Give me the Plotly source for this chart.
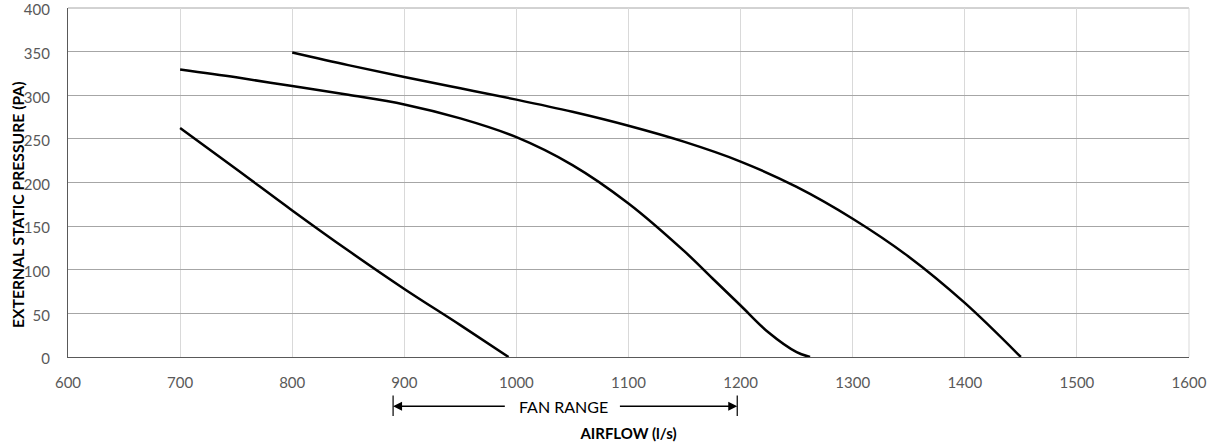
import plotly.graph_objects as go

# Fan curves: airflow (l/s) vs external static pressure (Pa)
low_airflow = [700, 750, 800, 850, 900, 950, 993]
low_pressure = [262.5, 215.5, 168, 122, 78, 36.5, 0]

mid_airflow = [700, 750, 800, 850, 900, 950, 1000, 1050, 1100, 1150, 1175, 1200, 1225, 1250, 1262]
mid_pressure = [329.5, 320.5, 310.5, 300.5, 289.5, 273.5, 252, 220, 176, 121, 90, 59, 28, 5.5, 0]

high_airflow = [800, 850, 900, 950, 1000, 1050, 1100, 1150, 1200, 1250, 1300, 1350, 1400, 1450]
high_pressure = [349, 334.5, 321, 308, 295, 281, 265, 246.5, 224, 195, 158.5, 115, 62, 0]

x_ticks = [600, 700, 800, 900, 1000, 1100, 1200, 1300, 1400, 1500, 1600]
y_ticks = [0, 50, 100, 150, 200, 250, 300, 350, 400]

fan_range = [890, 1197]
fan_range_label = "FAN RANGE"

FONT = "Lato"
TICK_COLOR = "#595959"
HGRID = "#a6a6a6"
VGRID = "#d9d9d9"

fig = go.Figure()
for xs, ys in [(low_airflow, low_pressure), (mid_airflow, mid_pressure), (high_airflow, high_pressure)]:
    fig.add_trace(go.Scatter(x=xs, y=ys, mode="lines",
                             line=dict(color="black", width=2.5, shape="spline", smoothing=1.0),
                             showlegend=False, hoverinfo="x+y"))

fig.update_layout(
    width=1218, height=447,
    margin=dict(l=68, r=29, t=8, b=90, autoexpand=False),
    paper_bgcolor="white", plot_bgcolor="white",
    font=dict(family=FONT, size=15, color=TICK_COLOR),
    xaxis=dict(range=[600, 1600], tickvals=x_ticks, showgrid=True, gridcolor=VGRID,
               gridwidth=1, showline=True, linecolor="#595959", linewidth=1.2, zeroline=False,
               ticks="", ticklabelstandoff=12, automargin=False, ticklabeloverflow="allow",
               title=dict(text="<b>AIRFLOW (l/s)</b>", font=dict(size=15, color="black"), standoff=38)),
    yaxis=dict(range=[0, 400], tickvals=y_ticks, showgrid=True, gridcolor=HGRID,
               gridwidth=1, showline=True, linecolor="#595959", linewidth=1.2, zeroline=False,
               ticks="", ticklabelstandoff=14, ticklabelshift=2, automargin=False,
               ticklabeloverflow="allow"),
)

# Plot frame: top gridline-coloured edge and light right edge
fig.add_shape(type="line", xref="paper", yref="paper", x0=0, x1=1, y0=1, y1=1,
              line=dict(color=HGRID, width=1), layer="below")
fig.add_shape(type="line", xref="paper", yref="paper", x0=1, x1=1, y0=0, y1=1,
              line=dict(color=VGRID, width=1), layer="below")

# Y axis title (positioned like the reference, slightly below the plot centre)
fig.add_annotation(text="<b>EXTERNAL STATIC PRESSURE (PA)</b>", textangle=-90,
                   xref="paper", yref="paper", x=-0.0445, y=0.436, xanchor="center", yanchor="middle",
                   showarrow=False, font=dict(family=FONT, size=15.7, color="black"))

# Fan range marker below the axis
y_mark = -0.141
fig.add_annotation(text=fan_range_label, xref="x", yref="paper",
                   x=1042, y=y_mark, showarrow=False,
                   font=dict(family=FONT, size=16, color="black"), yanchor="middle")
fig.add_annotation(text="", xref="x", yref="paper", axref="x", ayref="pixel",
                   x=fan_range[0], y=y_mark, ax=991, ay=0,
                   showarrow=True, arrowhead=2, arrowsize=1.2, arrowwidth=1.5, arrowcolor="black")
fig.add_annotation(text="", xref="x", yref="paper", axref="x", ayref="pixel",
                   x=fan_range[1], y=y_mark, ax=1091, ay=0,
                   showarrow=True, arrowhead=2, arrowsize=1.2, arrowwidth=1.5, arrowcolor="black")
for xv in fan_range:
    fig.add_shape(type="line", xref="x", yref="paper", x0=xv, x1=xv, y0=-0.11, y1=-0.169,
                  line=dict(color="black", width=1.2))

# Remove the browser's default page margin so the figure sits at the window origin
fig.write_html("out.html", config={"displayModeBar": False},
               post_script="document.body.style.margin='0';")
